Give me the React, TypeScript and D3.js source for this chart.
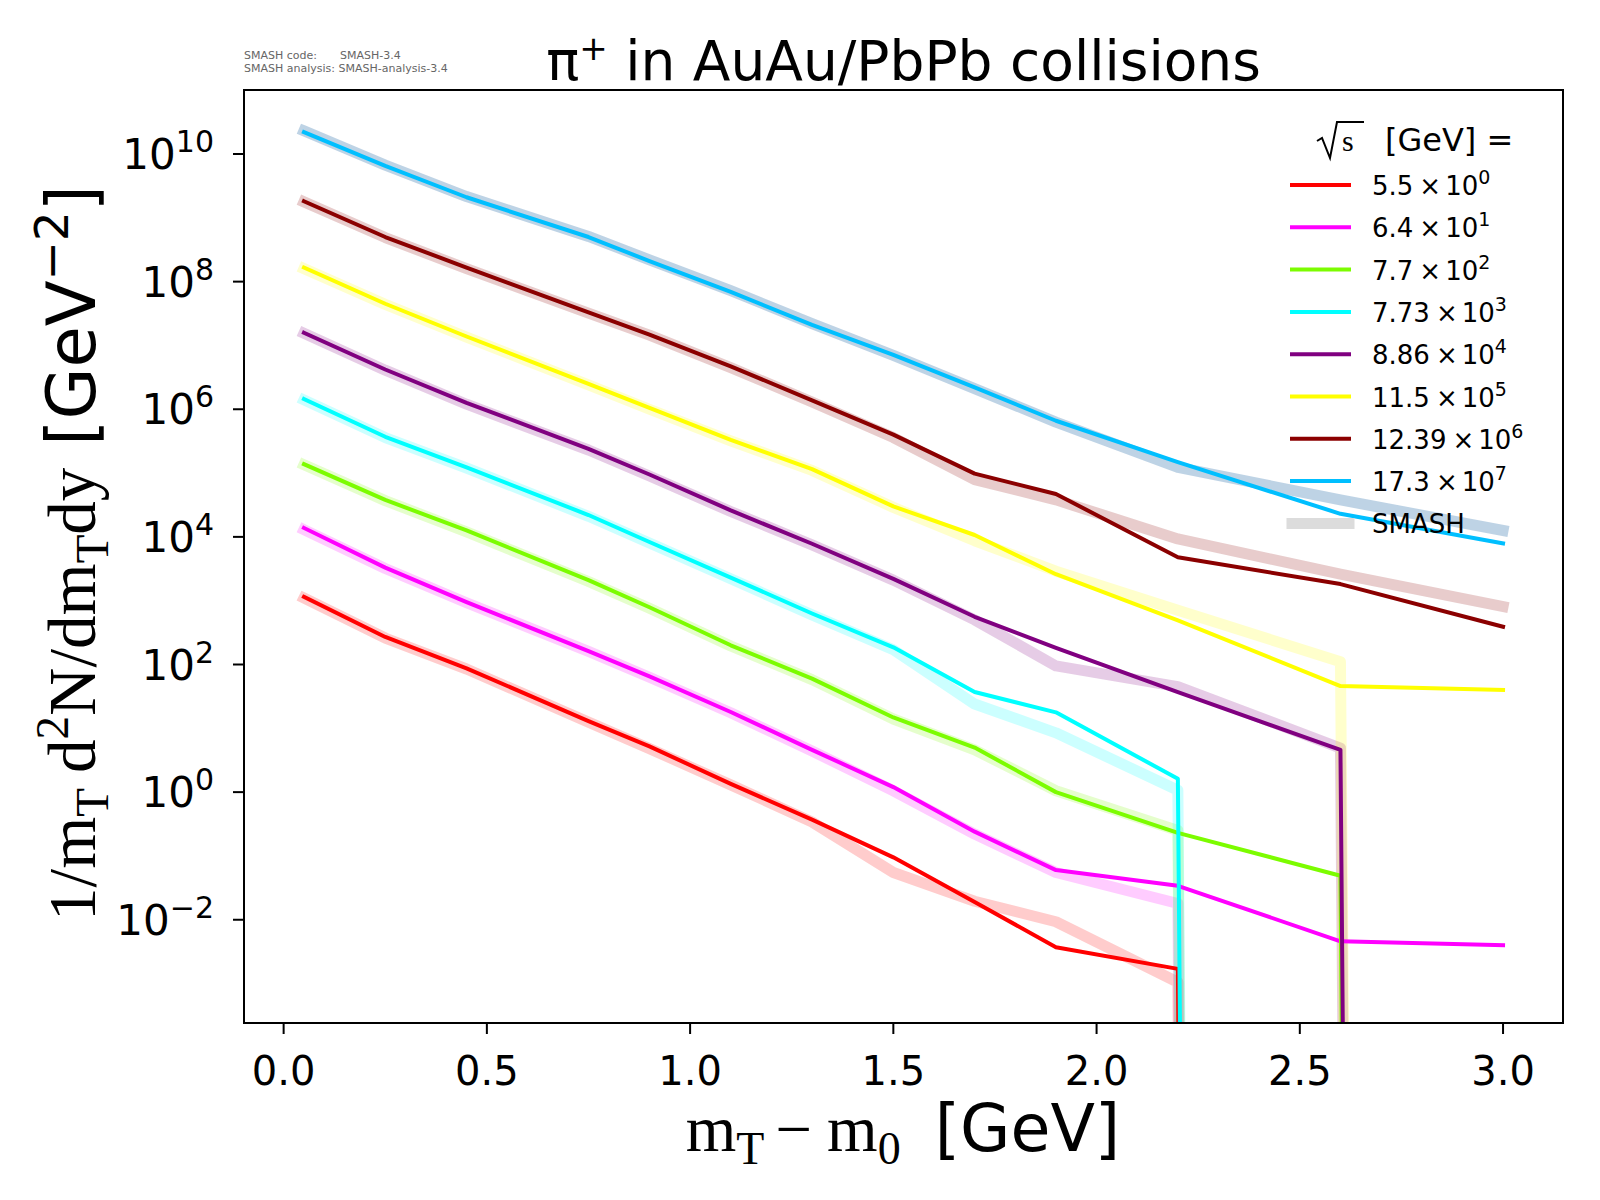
import * as d3 from "d3";

// m_T - m0 bin centres [GeV]
const mtBins = [0.05, 0.25, 0.45, 0.75, 0.9, 1.1, 1.3, 1.5, 1.7, 1.9, 2.2, 2.6, 3.0];

// sqrt(s) labels: mantissa, exponent used for the y-offset factor
const energyLabels = ["5.5", "6.4", "7.7", "7.73", "8.86", "11.5", "12.39", "17.3"];
const energyPowers = [0, 1, 2, 3, 4, 5, 6, 7];
const colors = ["#ff0000", "#ff00ff", "#7cfc00", "#00ffff", "#800080", "#ffff00", "#8b0000", "#00bfff"];
const smashColors = ["#ff0000", "#ff00ff", "#7cfc00", "#00ffff", "#800080", "#ffff00", "#8b0000", "#4682b4"];

// measured spectra (already scaled by 10^k)
const expRed = [1.15e3, 2.7e2, 8.7e1, 1.3e1, 5.2, 1.35, 0.37, 9.5e-2, 1.9e-2, 3.7e-3, 1.7e-3, 0, 0];
const expMagenta = [1.38e4, 3.3e3, 9.5e2, 1.62e2, 6.5e1, 1.8e1, 4.6, 1.2, 0.24, 6.0e-2, 3.4e-2, 4.6e-3, 4.0e-3];
const expGreen = [1.38e5, 3.8e4, 1.26e4, 2.1e3, 7.9e2, 2.0e2, 6.0e1, 1.48e1, 5.0, 1.0, 0.23, 4.9e-2, 0];
const expCyan = [1.45e6, 3.7e5, 1.23e5, 2.2e4, 8.3e3, 2.3e3, 6.3e2, 1.86e2, 3.7e1, 1.78e1, 1.62, 0, 0];
const expPurple = [1.58e7, 4.2e6, 1.26e6, 2.4e5, 9.5e4, 2.6e4, 7.8e3, 2.2e3, 5.6e2, 1.82e2, 3.7e1, 4.6, 0];
const expYellow = [1.66e8, 4.5e7, 1.38e7, 2.5e6, 1.05e6, 3.3e5, 1.15e5, 3.0e4, 1.07e4, 2.6e3, 4.9e2, 4.6e1, 4.0e1];
const expDarkred = [1.82e9, 5.0e8, 1.66e8, 3.3e7, 1.48e7, 4.7e6, 1.38e6, 4.0e5, 9.8e4, 4.7e4, 4.8e3, 1.82e3, 3.9e2];
const expBlue = [2.2e10, 6.5e9, 2.1e9, 5.0e8, 2.1e8, 6.9e7, 2.1e7, 7.1e6, 2.2e6, 6.6e5, 1.48e5, 2.3e4, 7.9e3];

// SMASH results
const smashRed = [1.1e3, 2.6e2, 8.5e1, 1.25e1, 4.8, 1.3, 0.34, 5.5e-2, 1.95e-2, 9.3e-3, 1.05e-3, 0, 0];
const smashMagenta = [1.3e4, 3.2e3, 9.3e2, 1.6e2, 6.3e1, 1.75e1, 4.4, 1.05, 0.22, 5.5e-2, 1.8e-2, 0, 0];
const smashGreen = [1.35e5, 3.7e4, 1.2e4, 2.0e3, 7.6e2, 1.95e2, 5.8e1, 1.4e1, 4.6, 1.05, 0.25, 0, 0];
const smashCyan = [1.4e6, 3.6e5, 1.2e5, 2.1e4, 8.0e3, 2.2e3, 6.0e2, 1.7e2, 2.4e1, 8.5, 1.07, 0, 0];
const smashPurple = [1.55e7, 4.1e6, 1.2e6, 2.3e5, 9.0e4, 2.5e4, 7.5e3, 2.1e3, 5.0e2, 9.5e1, 4.5e1, 4.9, 0];
const smashYellow = [1.6e8, 4.4e7, 1.35e7, 2.4e6, 1.0e6, 3.2e5, 1.1e5, 2.9e4, 8.7e3, 2.9e3, 7.1e2, 1.1e2, 0];
const smashDarkred = [1.78e9, 4.9e8, 1.6e8, 3.2e7, 1.45e7, 4.5e6, 1.3e6, 3.6e5, 7.9e4, 3.8e4, 9.3e3, 2.6e3, 8.1e2];
const smashBlue = [2.3e10, 6.7e9, 2.15e9, 5.1e8, 2.2e8, 7.2e7, 2.2e7, 7.0e6, 2.1e6, 6.3e5, 1.23e5, 3.8e4, 1.26e4];

const expSeries = [expRed, expMagenta, expGreen, expCyan, expPurple, expYellow, expDarkred, expBlue];
const smashSeries = [smashRed, smashMagenta, smashGreen, smashCyan, smashPurple, smashYellow, smashDarkred, smashBlue];

const xTicks = [0, 0.5, 1.0, 1.5, 2.0, 2.5, 3.0];
const yTickPowers = [-2, 0, 2, 4, 6, 8, 10];

const W = 1600;
const H = 1200;
const left = 244, right = 1563, top = 90, bottom = 1023;

const sans = "DejaVu Sans";
const serif = "Liberation Serif";

export default function App() {
  const x = d3.scaleLinear().domain([-0.0975, 3.1475]).range([left, right]);
  const y = d3.scaleLog().domain([Math.pow(10, -3.618), Math.pow(10, 11.003)]).range([bottom, top]);

  const line = d3
    .line<[number, number]>()
    .x((d) => x(d[0]))
    .y((d) => y(Math.max(d[1], 1e-300))); // zeros clipped like matplotlib

  const toPts = (vals: number[]) => mtBins.map((m, i) => [m, vals[i]] as [number, number]);

  const legX = 1292, legX2 = 1349, legText = 1372, legY0 = 185, legDy = 42.3;

  return (
    <svg width={W} height={H} style={{ position: "absolute", left: 0, top: 0, background: "#fff" }}>
      <defs>
        <clipPath id="plot">
          <rect x={left} y={top} width={right - left} height={bottom - top} />
        </clipPath>
      </defs>
      <rect width={W} height={H} fill="#fff" />

      {/* SMASH info */}
      <g fontFamily={sans} fontSize={11} fill="#666">
        <text x={244} y={59}>SMASH code:</text>
        <text x={340} y={59}>SMASH-3.4</text>
        <text x={244} y={72}>SMASH analysis: SMASH-analysis-3.4</text>
      </g>

      {/* title */}
      <text x={(left + right) / 2} y={80} textAnchor="middle" fontFamily={sans} fontSize={55}>
        π<tspan dy={-20} fontSize={34}>+</tspan>
        <tspan dy={20}> in AuAu/PbPb collisions</tspan>
      </text>

      {/* curves */}
      <g clipPath="url(#plot)" fill="none" strokeLinejoin="round" strokeLinecap="square">
        {smashSeries.map((s, i) => (
          <path key={"s" + i} d={line(toPts(s)) ?? ""} stroke={smashColors[i]}
            strokeOpacity={i === 7 ? 0.35 : 0.2} strokeWidth={11} />
        ))}
        {expSeries.map((s, i) => (
          <path key={"e" + i} d={line(toPts(s)) ?? ""} stroke={colors[i]} strokeWidth={4} />
        ))}
      </g>

      {/* frame */}
      <rect x={left} y={top} width={right - left} height={bottom - top} fill="none" stroke="#000" strokeWidth={2} />

      {/* x axis */}
      <g fontFamily={sans} fontSize={40} textAnchor="middle">
        {xTicks.map((t) => (
          <g key={t}>
            <line x1={x(t)} x2={x(t)} y1={bottom} y2={bottom + 11} stroke="#000" strokeWidth={2} />
            <text x={x(t)} y={1085}>{t.toFixed(1)}</text>
          </g>
        ))}
      </g>

      {/* y axis */}
      <g fontFamily={sans}>
        {yTickPowers.map((p) => {
          const yy = y(Math.pow(10, p));
          return (
            <g key={p}>
              <line x1={left - 11} x2={left} y1={yy} y2={yy} stroke="#000" strokeWidth={2} />
              <text x={214} y={yy + 15} textAnchor="end" fontSize={42}>
                10<tspan dy={-17} fontSize={30}>{p < 0 ? "−" + Math.abs(p) : String(p)}</tspan>
              </text>
            </g>
          );
        })}
      </g>

      {/* x label */}
      <text x={903} y={1151} textAnchor="middle" fontSize={65}>
        <tspan fontFamily={serif}>m</tspan>
        <tspan fontFamily={serif} fontSize={46} dy={13}>T</tspan>
        <tspan fontFamily={serif} dy={-13} dx={11}>−</tspan>
        <tspan fontFamily={serif} dx={15}>m</tspan>
        <tspan fontFamily={serif} fontSize={46} dy={13}>0</tspan>
        <tspan fontFamily={sans} dy={-13} dx={34}>[GeV]</tspan>
      </text>

      {/* y label */}
      <text transform="translate(95,553) rotate(-90)" textAnchor="middle" fontSize={67}>
        <tspan fontFamily={serif}>1/m</tspan>
        <tspan fontFamily={serif} fontSize={47} dy={13}>T</tspan>
        <tspan fontFamily={serif} dy={-13} dx={15}>d</tspan>
        <tspan fontFamily={serif} fontSize={47} dy={-27}>2</tspan>
        <tspan fontFamily={serif} dy={27}>N/dm</tspan>
        <tspan fontFamily={serif} fontSize={47} dy={13}>T</tspan>
        <tspan fontFamily={serif} dy={-13}>dy</tspan>
        <tspan fontFamily={sans} dx={22}>[GeV</tspan>
        <tspan fontFamily={sans} fontSize={47} dy={-27}>−2</tspan>
        <tspan fontFamily={sans} dy={27}>]</tspan>
      </text>

      {/* legend */}
      <g>
        <path d="M1317,141 L1322,138 L1330,158 L1337,122 L1364,122" fill="none" stroke="#000" strokeWidth={2} />
        <text x={1342} y={151} fontFamily={serif} fontSize={30}>s</text>
        <text x={1385} y={151} fontFamily={sans} fontSize={32}>[GeV] =</text>
        {energyLabels.map((lab, i) => {
          const yy = legY0 + i * legDy;
          return (
            <g key={lab}>
              <line x1={legX} x2={legX2} y1={yy} y2={yy} stroke={colors[i]} strokeWidth={4} strokeLinecap="square" />
              <text x={legText} y={yy + 10} fontFamily={sans} fontSize={26}>
                {lab}
                <tspan dx={6}>×</tspan>
                <tspan dx={4}>10</tspan>
                <tspan dy={-11} fontSize={19}>{energyPowers[i]}</tspan>
              </text>
            </g>
          );
        })}
        <line x1={legX} x2={legX2} y1={legY0 + 8 * legDy} y2={legY0 + 8 * legDy} stroke="#dcdcdc" strokeWidth={11} strokeLinecap="square" />
        <text x={legText} y={legY0 + 8 * legDy + 10} fontFamily={sans} fontSize={26}>SMASH</text>
      </g>
    </svg>
  );
}
